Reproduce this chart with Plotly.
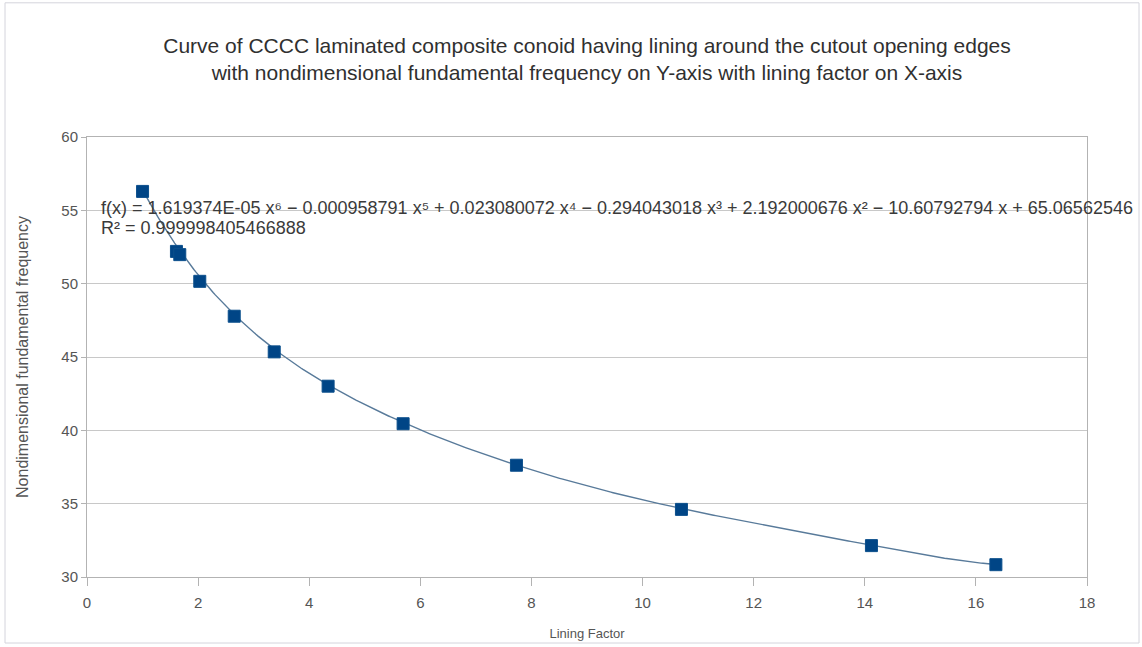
import numpy as np
import plotly.graph_objects as go

# Lining factor vs. nondimensional fundamental frequency
lining_factor = [1.0, 1.61, 1.67, 2.03, 2.65, 3.37, 4.34, 5.69, 7.73, 10.70, 14.12, 16.36]
frequency = [56.29, 52.20, 51.98, 50.16, 47.78, 45.35, 43.01, 40.45, 37.62, 34.61, 32.14, 30.84]

# 6th-order polynomial trend line coefficients (highest power first)
trend_coeffs = [1.619374e-05, -0.000958791, 0.023080072, -0.294043018,
                2.192000676, -10.60792794, 65.06562546]
r_squared_text = "0.999998405466888"

x_ticks = list(range(0, 19, 2))
y_ticks = list(range(30, 61, 5))

title_text = ("Curve of CCCC laminated composite conoid having lining around the cutout opening edges<br>"
              "with nondimensional fundamental frequency on Y-axis with lining factor on X-axis")
equation_text = ("f(x) = 1.619374E-05 x⁶ − 0.000958791 x⁵ + 0.023080072 x⁴ − 0.294043018 x³ "
                 "+ 2.192000676 x² − 10.60792794 x + 65.06562546")

font_family = "Liberation Sans, Arial, sans-serif"

# Trend curve evaluated over the span of the measured lining factors
trend_x = np.linspace(min(lining_factor), max(lining_factor), 400)
trend_y = np.polyval(trend_coeffs, trend_x)

fig = go.Figure()
fig.add_trace(go.Scatter(
    x=trend_x, y=trend_y, mode="lines",
    line=dict(color="#587a9a", width=1.4),
    hoverinfo="skip", showlegend=False,
))
fig.add_trace(go.Scatter(
    x=lining_factor, y=frequency, mode="markers",
    marker=dict(symbol="square", size=12, color="#004586",
                line=dict(color="#0b4f8c", width=1)),
    showlegend=False,
))

# Trend line equation and coefficient of determination
eq_font = dict(family=font_family, size=18, color="#3a3a3a")
fig.add_annotation(
    xref="paper", yref="paper", x=0.012, y=0.8386, xanchor="left", yanchor="middle",
    text=equation_text, showarrow=False, font=eq_font,
)
fig.add_annotation(
    xref="paper", yref="paper", x=0.012, y=0.7932, xanchor="left", yanchor="middle",
    text="R² = " + r_squared_text, showarrow=False, font=eq_font,
)

# Thin frame around the whole chart
fig.add_shape(type="rect", xref="paper", yref="paper",
              x0=-0.082, x1=1.052, y0=-0.150, y1=1.305,
              line=dict(color="#d4d4dc", width=1), layer="below")

fig.update_layout(
    width=1142, height=647, autosize=False,
    margin=dict(l=87, r=55, t=137, b=70),
    paper_bgcolor="white", plot_bgcolor="white",
    title=dict(text=title_text, x=0.5, xanchor="center", xref="paper",
               y=1 - 53 / 647, yanchor="middle",
               font=dict(family=font_family, size=21, color="#303030")),
    font=dict(family=font_family, color="#555555"),
)
fig.update_xaxes(
    range=[0, 18], tickvals=x_ticks, ticks="outside", ticklen=8, tickcolor="#b3b3b3",
    ticklabelstandoff=4, automargin=False,
    showgrid=False, showline=True, linecolor="#b3b3b3", mirror=True, zeroline=False,
    tickfont=dict(size=15, color="#555555"),
    title=dict(text="Lining Factor", font=dict(size=13, color="#555555"), standoff=18),
)
fig.update_yaxes(
    range=[30, 60], tickvals=y_ticks, ticks="outside", ticklen=5, tickcolor="#b3b3b3",
    automargin=False,
    showgrid=True, gridcolor="#c8c8c8", showline=True, linecolor="#b3b3b3", mirror=True,
    zeroline=False, tickfont=dict(size=15, color="#555555"),
    title=dict(text="Nondimensional fundamental frequency",
               font=dict(size=16, color="#555555"), standoff=28),
)

fig.write_html("out.html")
